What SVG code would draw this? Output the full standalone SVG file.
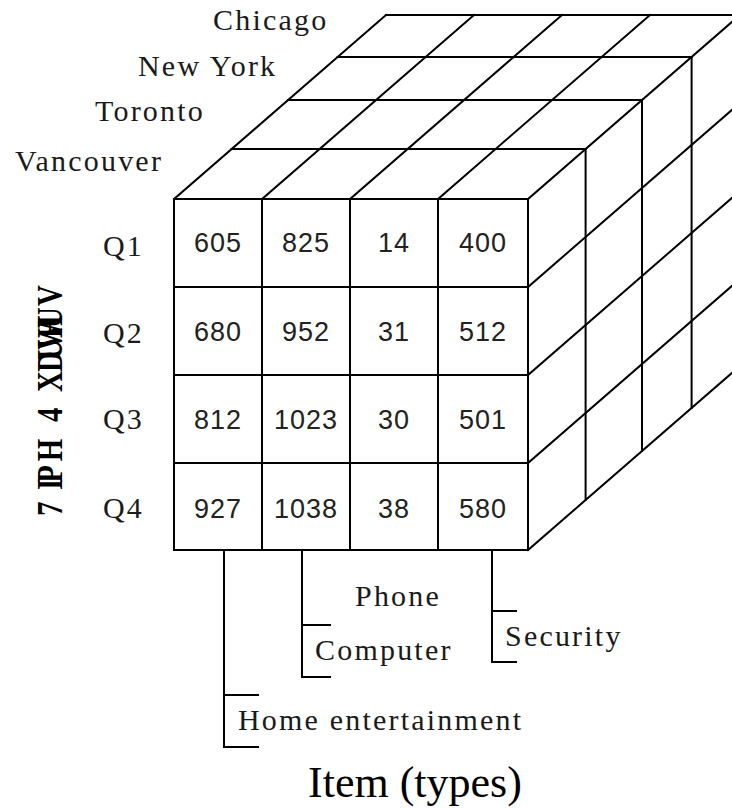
<svg xmlns="http://www.w3.org/2000/svg" width="732" height="809" viewBox="0 0 732 809">
<style>
.ln{stroke:#000;stroke-width:2;fill:none;stroke-linecap:square}
.lbl{font-family:"Liberation Serif","Times New Roman",serif;font-size:30px;letter-spacing:2.2px;fill:#1a1a1a}
.num{font-family:"Liberation Sans",Arial,sans-serif;font-size:27px;letter-spacing:1px;fill:#222;text-anchor:middle}
.title{font-family:"Liberation Serif","Times New Roman",serif;font-size:44px;fill:#000}
.vt{font-family:"Liberation Serif","Times New Roman",serif;font-size:36px;font-weight:bold;fill:#000}
</style>
<rect width="732" height="809" fill="#fff"/>
<g id="connectors">
  <g id="top-face">
    <path class="ln" d="M231.6,149H585.6M288,100H642M337.6,57H691.6M386,15H740"/>
    <path class="ln" d="M174,199L386,15M262,199L474,15M350,199L562,15M438,199L650,15M528,199L740,15"/>
  </g>
  <g id="right-face">
    <path class="ln" d="M585.6,149V500M642,100V451M691.6,57V408"/>
    <path class="ln" d="M528,287L740,103M528,375L740,191M528,463L740,279M528,550L740,366"/>
  </g>
  <g id="front-face">
    <rect class="ln" x="174" y="199" width="354" height="351"/>
    <path class="ln" d="M262,199V550M350,199V550M438,199V550M174,287H528M174,375H528M174,463H528"/>
  </g>
  <g id="item-brackets">
    <path class="ln" d="M224,550V747M224,695H258M224,747H258"/>
    <path class="ln" d="M302,550V677M302,625H330M302,677H330"/>
    <path class="ln" d="M492,550V662M492,611H516M492,662H516"/>
  </g>
</g>
<g id="city-labels">
  <g id="city-chicago"><text class="lbl" x="213" y="30">Chicago</text></g>
  <g id="city-newyork"><text class="lbl" x="138" y="76">New York</text></g>
  <g id="city-toronto"><text class="lbl" x="95" y="121">Toronto</text></g>
  <g id="city-vancouver"><text class="lbl" x="15" y="171">Vancouver</text></g>
</g>
<g id="quarter-labels">
  <g id="q1"><text class="lbl" x="103" y="256">Q1</text></g>
  <g id="q2"><text class="lbl" x="103" y="343">Q2</text></g>
  <g id="q3"><text class="lbl" x="103" y="429">Q3</text></g>
  <g id="q4"><text class="lbl" x="103" y="518">Q4</text></g>
</g>
<g id="cells">
  <g id="row-q1">
    <text class="num" x="218" y="252">605</text>
    <text class="num" x="306" y="252">825</text>
    <text class="num" x="394" y="252">14</text>
    <text class="num" x="483" y="252">400</text>
  </g>
  <g id="row-q2">
    <text class="num" x="218" y="341">680</text>
    <text class="num" x="306" y="341">952</text>
    <text class="num" x="394" y="341">31</text>
    <text class="num" x="483" y="341">512</text>
  </g>
  <g id="row-q3">
    <text class="num" x="218" y="429">812</text>
    <text class="num" x="306" y="429">1023</text>
    <text class="num" x="394" y="429">30</text>
    <text class="num" x="483" y="429">501</text>
  </g>
  <g id="row-q4">
    <text class="num" x="218" y="518">927</text>
    <text class="num" x="306" y="518">1038</text>
    <text class="num" x="394" y="518">38</text>
    <text class="num" x="483" y="518">580</text>
  </g>
</g>
<g id="item-labels">
  <g id="item-phone"><text class="lbl" x="355" y="606">Phone</text></g>
  <g id="item-computer"><text class="lbl" x="315" y="660">Computer</text></g>
  <g id="item-security"><text class="lbl" x="505" y="646">Security</text></g>
  <g id="item-home"><text class="lbl" x="238" y="730">Home entertainment</text></g>
</g>
<g id="axis-item"><text class="title" x="308" y="797">Item (types)</text></g>
<g id="axis-time"><text class="vt" transform="translate(62,518) rotate(-90) scale(0.8,1)" x="2.5 25 35 44 66 71 100 120 144 157.5 182.5 197.5 210 225 237.5 265" y="0">7 IP H 4 XDUWHUV</text></g>
</svg>
